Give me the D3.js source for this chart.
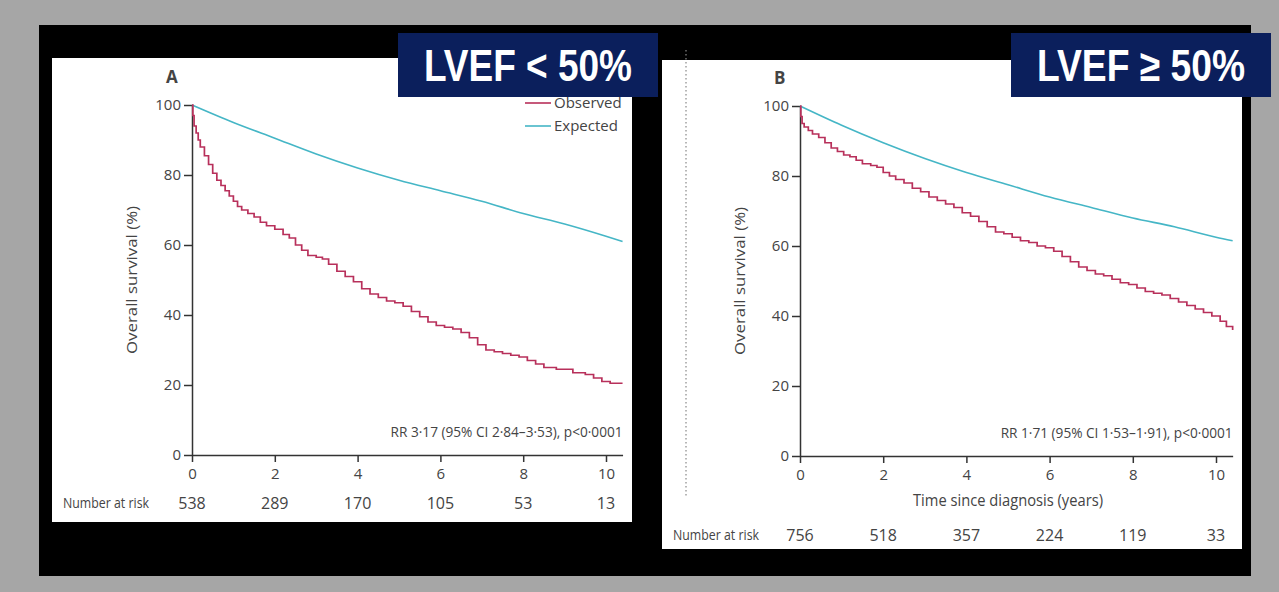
<!DOCTYPE html>
<html lang="en">
<head>
  <meta charset="UTF-8">
  <title>Overall survival by LVEF</title>
  <script src="https://d3js.org/d3.v7.min.js"></script>
  <style>
    body { margin: 0; }
    svg text { font-family: "Open Sans", "Noto Sans", sans-serif; fill: #444; }
    .axis path, .axis line { stroke: #333; stroke-width: 1.5; }
    .axis text { font-size: 15px; fill: #444; }
    .badge { font-family: "Liberation Sans", Arial, sans-serif !important; font-weight: bold; fill: #fff !important; }
  </style>
</head>
<body>
<svg id="chart" width="1279" height="592"></svg>
<script>
  // tick labels
  const yTicks = [0, 20, 40, 60, 80, 100];
  const xTicks = [0, 2, 4, 6, 8, 10];

  // panel A: LVEF < 50%
  const observedA = [
    [0, 100], [0.02, 97], [0.05, 94], [0.1, 92], [0.15, 90], [0.2, 88], [0.3, 85.5], [0.4, 83],
    [0.5, 80.5], [0.6, 78.5], [0.7, 77], [0.8, 75.5], [0.9, 74], [1.0, 72.5], [1.1, 71], [1.2, 70],
    [1.35, 69], [1.5, 68], [1.65, 66.5], [1.8, 65.5], [2.0, 64.5], [2.2, 63], [2.35, 62], [2.5, 60],
    [2.65, 58.5], [2.8, 57], [3.0, 56.5], [3.15, 56], [3.3, 54.5], [3.5, 52.5], [3.7, 51], [3.9, 49.5],
    [4.1, 47.5], [4.3, 46], [4.5, 45], [4.7, 44], [4.9, 43.5], [5.1, 42.5], [5.3, 41], [5.5, 39.5],
    [5.7, 38], [5.9, 37], [6.1, 36.5], [6.3, 36], [6.5, 35], [6.7, 33.5], [6.9, 31.5], [7.1, 30],
    [7.3, 29.5], [7.5, 29], [7.7, 28.5], [7.9, 28], [8.1, 27], [8.3, 26], [8.5, 25], [8.8, 24.5],
    [9.2, 23.5], [9.5, 23], [9.7, 22], [9.9, 21], [10.1, 20.5], [10.4, 20.5]
  ];
  const expectedA = [
    [0, 100], [1, 95], [2, 90.5], [3, 86], [4, 82], [5, 78.5], [6, 75.5], [7, 72.5],
    [8, 69], [9, 66], [10, 62.5], [10.4, 61]
  ];
  const atRiskA = [538, 289, 170, 105, 53, 13];

  // panel B: LVEF >= 50%
  const observedB = [
    [0, 100], [0.02, 97], [0.05, 95], [0.1, 94], [0.2, 93], [0.3, 92], [0.45, 91], [0.6, 89.5],
    [0.75, 88], [0.9, 87], [1.05, 86], [1.2, 85.5], [1.35, 84.5], [1.5, 83.5], [1.7, 83], [1.85, 82.5],
    [2.0, 81], [2.15, 80], [2.3, 79], [2.5, 78], [2.7, 76.5], [2.9, 75.5], [3.1, 74], [3.3, 73],
    [3.5, 72], [3.7, 71], [3.9, 69.5], [4.1, 68.5], [4.3, 67], [4.5, 65.5], [4.7, 64], [4.9, 63.5],
    [5.1, 62.5], [5.3, 61.5], [5.5, 61], [5.7, 60], [5.9, 59.5], [6.1, 58.5], [6.3, 57], [6.5, 55.5],
    [6.7, 54], [6.9, 53], [7.1, 52], [7.3, 51.5], [7.5, 50.5], [7.7, 49.5], [7.9, 49], [8.1, 48],
    [8.3, 47], [8.5, 46.5], [8.7, 46], [8.9, 45], [9.1, 44], [9.3, 43], [9.5, 42], [9.7, 41],
    [9.9, 40], [10.1, 38.5], [10.25, 37], [10.4, 36]
  ];
  const expectedB = [
    [0, 100], [1, 94.5], [2, 89.5], [3, 85], [4, 81], [5, 77.5], [6, 74], [7, 71],
    [8, 68], [9, 65.5], [10, 62.5], [10.4, 61.5]
  ];
  const atRiskB = [756, 518, 357, 224, 119, 33];

  const svg = d3.select('#chart');

  // frame: grey border, black slide, white panels
  svg.append('rect').attr('width', 1279).attr('height', 592).attr('fill', '#a6a6a6');
  svg.append('rect').attr('x', 39).attr('y', 25).attr('width', 1212).attr('height', 551).attr('fill', '#000');

  const panels = [
    { letter: 'A', badge: 'LVEF < 50%', obs: observedA, exp: expectedA, risk: atRiskA,
      box: [52, 58, 580, 464], x0: 192, x10: 606, y0: 455, y100: 105, riskY: 509,
      rr: 'RR 3·17 (95% CI 2·84–3·53), p<0·0001', legend: true, xLabel: false,
      badgeBox: [398, 33] },
    { letter: 'B', badge: 'LVEF ≥ 50%', obs: observedB, exp: expectedB, risk: atRiskB,
      box: [662, 60, 580, 489], x0: 800, x10: 1216, y0: 456, y100: 106, riskY: 541,
      rr: 'RR 1·71 (95% CI 1·53–1·91), p<0·0001', legend: false, xLabel: true,
      badgeBox: [1011, 33] }
  ];

  panels.forEach((p) => {
    svg.append('rect')
      .attr('x', p.box[0]).attr('y', p.box[1])
      .attr('width', p.box[2]).attr('height', p.box[3])
      .attr('fill', '#fff');
  });

  // dotted divider
  svg.append('line')
    .attr('x1', 686).attr('x2', 686).attr('y1', 50).attr('y2', 497)
    .attr('stroke', '#888').attr('stroke-width', 1.2).attr('stroke-dasharray', '1.5,2.5');

  panels.forEach((p) => {
    const xEnd = p.x0 + (p.x10 - p.x0) * 1.04;
    const x = d3.scaleLinear().domain([0, 10.4]).range([p.x0, xEnd]);
    const y = d3.scaleLinear().domain([0, 100]).range([p.y0, p.y100]);
    const g = svg.append('g');

    g.append('g').attr('class', 'axis')
      .attr('transform', `translate(0,${p.y0})`)
      .call(d3.axisBottom(x).tickValues(xTicks).tickSizeInner(7).tickSizeOuter(0).tickPadding(6));
    g.append('g').attr('class', 'axis')
      .attr('transform', `translate(${p.x0},0)`)
      .call(d3.axisLeft(y).tickValues(yTicks).tickSizeInner(8).tickSizeOuter(0).tickPadding(3));

    // y axis label
    g.append('text')
      .attr('transform', `translate(${p.x0 - 55},${(p.y0 + p.y100) / 2}) rotate(-90)`)
      .attr('text-anchor', 'middle')
      .attr('font-size', 15)
      .attr('textLength', 148).attr('lengthAdjust', 'spacingAndGlyphs')
      .text('Overall survival (%)');

    if (p.xLabel) {
      g.append('text')
        .attr('x', 1008).attr('y', 506)
        .attr('text-anchor', 'middle')
        .attr('font-size', 16)
        .attr('textLength', 190).attr('lengthAdjust', 'spacingAndGlyphs')
        .text('Time since diagnosis (years)');
    }

    g.append('text')
      .attr('x', p.x0 - 26).attr('y', p.y100 - 22)
      .attr('font-size', 17).attr('font-weight', 'bold').attr('fill', '#333')
      .text(p.letter);

    const line = d3.line().x((d) => x(d[0])).y((d) => y(d[1]));

    g.append('path')
      .datum(p.exp)
      .attr('fill', 'none').attr('stroke', '#45b6c6').attr('stroke-width', 1.6)
      .attr('d', line.curve(d3.curveMonotoneX));
    g.append('path')
      .datum(p.obs)
      .attr('fill', 'none').attr('stroke', '#b8305b').attr('stroke-width', 1.7)
      .attr('d', line.curve(d3.curveStepAfter));

    g.append('text')
      .attr('x', xEnd).attr('y', p.y0 - 18)
      .attr('text-anchor', 'end').attr('font-size', 15)
      .attr('textLength', 232).attr('lengthAdjust', 'spacingAndGlyphs')
      .text(p.rr);

    // number at risk
    g.append('text')
      .attr('x', p.box[0] + 11).attr('y', p.riskY - 1)
      .attr('font-size', 15)
      .attr('textLength', 86).attr('lengthAdjust', 'spacingAndGlyphs')
      .text('Number at risk');
    g.selectAll('.risk')
      .data(p.risk)
      .enter()
      .append('text')
      .attr('x', (d, i) => x(xTicks[i]))
      .attr('y', p.riskY)
      .attr('text-anchor', 'middle')
      .attr('font-size', 16)
      .text((d) => d);

    if (p.legend) {
      const items = [['Observed', '#b8305b'], ['Expected', '#45b6c6']];
      items.forEach((it, i) => {
        const ly = 103 + i * 23;
        g.append('line')
          .attr('x1', 525).attr('x2', 551).attr('y1', ly).attr('y2', ly)
          .attr('stroke', it[1]).attr('stroke-width', 1.6);
        g.append('text')
          .attr('x', 554).attr('y', ly + 5)
          .attr('font-size', 15)
          .text(it[0]);
      });
    }

    // blue badge
    svg.append('rect')
      .attr('x', p.badgeBox[0]).attr('y', p.badgeBox[1])
      .attr('width', 260).attr('height', 64)
      .attr('fill', '#0b1f5c');
    svg.append('text')
      .attr('class', 'badge')
      .attr('x', p.badgeBox[0] + 130).attr('y', p.badgeBox[1] + 48)
      .attr('text-anchor', 'middle')
      .attr('font-size', 44)
      .attr('textLength', 208).attr('lengthAdjust', 'spacingAndGlyphs')
      .text(p.badge);
  });
</script>
</body>
</html>
